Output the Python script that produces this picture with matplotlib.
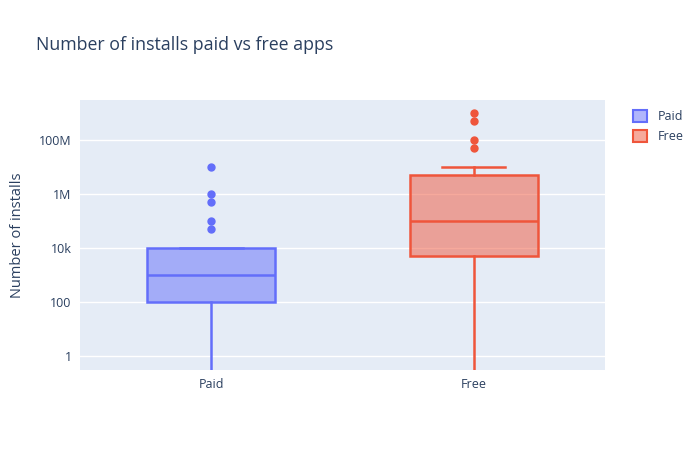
import matplotlib
matplotlib.use("Agg")
import matplotlib.pyplot as plt
from matplotlib.patches import Patch
from matplotlib.ticker import FixedLocator, NullLocator

plt.rcParams['font.family'] = ['Open Sans', 'DejaVu Sans']

categories = ["Paid", "Free"]
colors = ["#636efa", "#EF553B"]
q1 = [100, 5000]
med = [1000, 100000]
q3 = [10000, 5000000]
whis_lo = [0, 0]
whis_hi = [10000, 10000000]
fliers = [
    [50000, 100000, 500000, 1000000, 10000000],
    [50000000, 100000000, 500000000, 1000000000],
]
ytick_vals = [1, 100, 10000, 1000000, 100000000]
ytick_labels = ["1", "100", "10k", "1M", "100M"]

fig = plt.figure(figsize=(7, 4.5), dpi=100)
ax = fig.add_axes([80/700, 80/450, 525/700, 270/450])
ax.set_facecolor("#e5ecf6")
for s in ax.spines.values():
    s.set_visible(False)
ax.set_yscale("log")

for i, cat in enumerate(categories):
    stats = [dict(label=cat, q1=q1[i], med=med[i], q3=q3[i],
                  whislo=whis_lo[i], whishi=whis_hi[i], fliers=fliers[i])]
    c = colors[i]
    ax.bxp(stats, positions=[i], widths=0.487, patch_artist=True,
           boxprops=dict(facecolor=matplotlib.colors.to_rgba(c, 0.5), edgecolor=c, linewidth=1.8),
           medianprops=dict(color=c, linewidth=1.8),
           whiskerprops=dict(color=c, linewidth=1.8),
           capprops=dict(color=c, linewidth=1.8),
           capwidths=0.24,
           flierprops=dict(marker='o', markerfacecolor=c, markeredgecolor=c, markersize=5, linestyle='none'),
           zorder=3)

ax.set_xlim(-0.5, 1.5)
ax.set_ylim(10**-0.52, 10**9.48)
ax.yaxis.set_major_locator(FixedLocator(ytick_vals))
ax.yaxis.set_minor_locator(NullLocator())
ax.set_yticklabels(ytick_labels)
ax.set_xticks(range(len(categories)))
ax.set_xticklabels(categories)
ax.grid(axis='y', color='white', linewidth=1, zorder=0)
ax.set_axisbelow(True)
ax.tick_params(axis='both', length=0, labelsize=9, labelcolor='#2a3f5f', pad=6)
ax.set_ylabel("Number of installs", fontsize=10.5, color='#2a3f5f', labelpad=10)

fig.text(36/700, 1 - 45/450, "Number of installs paid vs free apps", fontsize=12.8,
         color='#2a3f5f', va='center', ha='left')

handles = [Patch(facecolor=matplotlib.colors.to_rgba(c, 0.5), edgecolor=c, linewidth=1.5) for c in colors]
leg = fig.legend(handles, categories, loc='upper left', bbox_to_anchor=(628/700, 1 - 105/450),
                 frameon=False, fontsize=9, labelcolor='#2a3f5f', handlelength=1.1, handleheight=1.1,
                 handletextpad=0.9, labelspacing=0.5, borderaxespad=0)

fig.savefig("out.png", dpi=100)
